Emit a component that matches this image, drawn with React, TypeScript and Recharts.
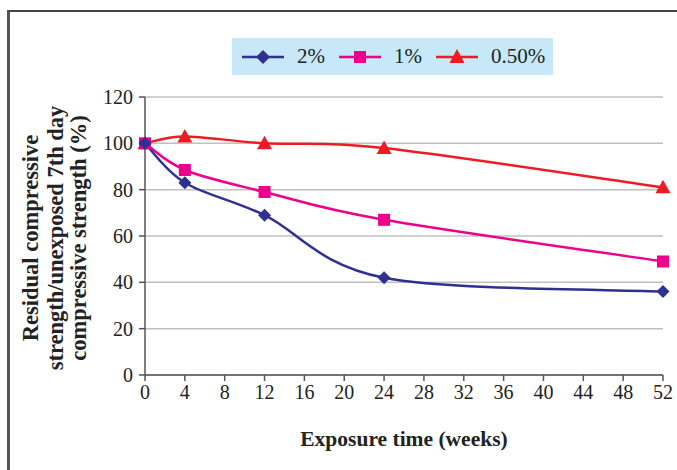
import React from 'react';
import { LineChart, Line, XAxis, YAxis, CartesianGrid } from 'recharts';

const weeks = [0, 4, 12, 24, 52];
const pct2 = [100, 83, 69, 42, 36];
const pct1 = [100, 88.5, 79, 67, 49];
const pct050 = [100, 103, 100, 98, 81];
const xTicks = [0, 4, 8, 12, 16, 20, 24, 28, 32, 36, 40, 44, 48, 52];
const yTicks = [0, 20, 40, 60, 80, 100, 120];

const data = weeks.map((w, i) => ({ week: w, p2: pct2[i], p1: pct1[i], p05: pct050[i] }));

const BLUE = '#2e3192';
const PINK = '#ec008c';
const RED = '#ed1c24';
const FONT = '"Liberation Serif", "DejaVu Serif", serif';

// Excel-like smoothed line (Catmull-Rom style Bezier)
function excelCurve(context: any) {
  let pts: number[][] = [];
  return {
    areaStart() {},
    areaEnd() {},
    lineStart() { pts = []; },
    point(x: number, y: number) { pts.push([+x, +y]); },
    lineEnd() {
      if (!pts.length) return;
      context.moveTo(pts[0][0], pts[0][1]);
      for (let i = 0; i < pts.length - 1; i++) {
        const p0 = pts[i - 1] || pts[i];
        const p1 = pts[i];
        const p2 = pts[i + 1];
        const p3 = pts[i + 2] || p2;
        const c1x = p1[0] + (p2[0] - p0[0]) / 6;
        const c1y = p1[1] + (p2[1] - p0[1]) / 6;
        const c2x = p2[0] - (p3[0] - p1[0]) / 6;
        const c2y = p2[1] - (p3[1] - p1[1]) / 6;
        context.bezierCurveTo(c1x, c1y, c2x, c2y, p2[0], p2[1]);
      }
    },
  };
}

const Diamond = (props: any) => {
  const { cx, cy } = props;
  if (cx == null || cy == null) return null;
  const r = 6.5;
  return <polygon points={`${cx},${cy - r} ${cx + r},${cy} ${cx},${cy + r} ${cx - r},${cy}`} fill={BLUE} />;
};
const Square = (props: any) => {
  const { cx, cy } = props;
  if (cx == null || cy == null) return null;
  const r = 6;
  return <rect x={cx - r} y={cy - r} width={2 * r} height={2 * r} fill={PINK} />;
};
const Triangle = (props: any) => {
  const { cx, cy } = props;
  if (cx == null || cy == null) return null;
  const r = 7.5;
  return <polygon points={`${cx},${cy - r} ${cx + r},${cy + r * 0.8} ${cx - r},${cy + r * 0.8}`} fill={RED} />;
};

const legendItems = [
  { label: '2%', color: BLUE, shape: 'diamond' },
  { label: '1%', color: PINK, shape: 'square' },
  { label: '0.50%', color: RED, shape: 'triangle' },
];

const LegendBox = () => (
  <div
    style={{
      position: 'absolute',
      left: 232,
      top: 38,
      background: '#c6e8f8',
      width: 321,
      height: 37,
      display: 'flex',
      alignItems: 'center',
      paddingLeft: 10,
      boxSizing: 'border-box',
      fontFamily: FONT,
      fontSize: 21,
      color: '#222',
    }}
  >
    {legendItems.map((it, i) => (
      <div key={i} style={{ display: 'flex', alignItems: 'center', marginRight: 14 }}>
        <svg width={42} height={20} style={{ marginRight: 13 }}>
          <line x1={0} y1={10} x2={42} y2={10} stroke={it.color} strokeWidth={2.5} />
          {it.shape === 'diamond' && <polygon points="21,3 28,10 21,17 14,10" fill={it.color} />}
          {it.shape === 'square' && <rect x={15} y={4} width={12} height={12} fill={it.color} />}
          {it.shape === 'triangle' && <polygon points="21,2 28.5,16 13.5,16" fill={it.color} />}
        </svg>
        <span>{it.label}</span>
      </div>
    ))}
  </div>
);

const YTitle = () => {
  const lines = ['Residual compressive', 'strength/unexposed 7th day', 'compressive strength (%)'];
  const cy = 238;
  const xs = [30, 55, 78];
  return (
    <g>
      {lines.map((t, i) => (
        <text
          key={i}
          x={xs[i]}
          y={cy}
          transform={`rotate(-90, ${xs[i]}, ${cy})`}
          textAnchor="middle"
          dominantBaseline="central"
          fontFamily={FONT}
          fontWeight="bold"
          fontSize={22.5}
          fill="#222"
        >
          {t}
        </text>
      ))}
    </g>
  );
};

export default function App() {
  return (
    <div
      style={{
        position: 'fixed',
        left: 0,
        top: 0,
        width: 677,
        height: 470,
        overflow: 'hidden',
        background: '#fff',
      }}
    >
      <div
        style={{
          position: 'absolute',
          left: 7,
          top: 10,
          width: 700,
          height: 500,
          borderTop: '2px solid #444',
          borderLeft: '3px solid #555',
          boxSizing: 'border-box',
        }}
      />
      <LineChart
        width={677}
        height={470}
        data={data}
        margin={{ top: 97, right: 14, bottom: 65, left: 105 }}
        style={{ position: 'absolute', left: 0, top: 0 }}
      >
        <CartesianGrid vertical={false} stroke="#c0c0c0" strokeWidth={1.5} />
        <XAxis
          dataKey="week"
          type="number"
          domain={[0, 52]}
          ticks={xTicks}
          interval={0}
          height={30}
          tickSize={6}
          tickMargin={4}
          axisLine={{ stroke: '#555', strokeWidth: 1.5 }}
          tickLine={{ stroke: '#555', strokeWidth: 1.5 }}
          tick={{ fontFamily: FONT, fontSize: 20, fill: '#222' }}
          label={{
            value: 'Exposure time (weeks)',
            position: 'bottom',
            offset: 26,
            style: { fontFamily: FONT, fontWeight: 'bold', fontSize: 21.5, fill: '#222' },
          }}
        />
        <YAxis
          type="number"
          domain={[0, 120]}
          ticks={yTicks}
          interval={0}
          width={40}
          tickSize={6}
          tickMargin={6}
          axisLine={{ stroke: '#555', strokeWidth: 1.5 }}
          tickLine={{ stroke: '#555', strokeWidth: 1.5 }}
          tick={{ fontFamily: FONT, fontSize: 20, fill: '#222' }}
          label={{ content: () => <YTitle /> }}
        />
        <Line
          dataKey="p05"
          type={excelCurve as any}
          stroke={RED}
          strokeWidth={2.5}
          dot={<Triangle />}
          activeDot={false}
          isAnimationActive={false}
        />
        <Line
          dataKey="p1"
          type={excelCurve as any}
          stroke={PINK}
          strokeWidth={2.5}
          dot={<Square />}
          activeDot={false}
          isAnimationActive={false}
        />
        <Line
          dataKey="p2"
          type={excelCurve as any}
          stroke={BLUE}
          strokeWidth={2.5}
          dot={<Diamond />}
          activeDot={false}
          isAnimationActive={false}
        />
      </LineChart>
      <LegendBox />
    </div>
  );
}
